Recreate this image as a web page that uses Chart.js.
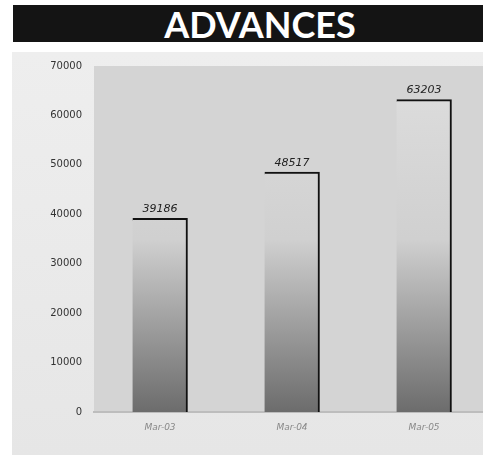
<!DOCTYPE html>
<html>
<head>
<meta charset="utf-8">
<script src="https://cdn.jsdelivr.net/npm/chart.js@4"></script>
<style>
    body { margin: 0; background: #fff; overflow: hidden; width: 483px; height: 465px; position: relative; }
    .title {
        position: absolute; left: 13px; top: 5px; width: 470px; height: 37px;
        background: #141414; color: #fff; text-align: center;
        font: bold 36px Lato, sans-serif; line-height: 38px; padding-left: 24px; box-sizing: border-box;
    }
    .panel {
        position: absolute; left: 12px; top: 52px; width: 490px; height: 403px;
        background: linear-gradient(#eeeeee, #e6e6e6);
    }
</style>
</head>
<body>
<div class="title">ADVANCES</div>
<div class="panel"><canvas id="chart" width="490" height="403"></canvas></div>
<script>
const labels = ['Mar-03', 'Mar-04', 'Mar-05']
const advances = [39186, 48517, 63203]
const yTicks = [0, 10000, 20000, 30000, 40000, 50000, 60000, 70000]

const valueLabels = {
    id: 'valueLabels',
    afterDatasetsDraw: (chart) => {
        const ctx = chart.ctx
        const meta = chart.getDatasetMeta(0)
        ctx.save()
        ctx.font = 'italic 11px "DejaVu Sans", sans-serif'
        ctx.fillStyle = '#222'
        ctx.textAlign = 'center'
        ctx.textBaseline = 'bottom'
        meta.data.forEach((bar, i) => {
            ctx.fillText(advances[i], bar.x, bar.y - 4)
        })
        ctx.restore()
    }
}

const plotBackground = {
    id: 'plotBackground',
    beforeDraw: (chart) => {
        const { ctx, chartArea } = chart
        ctx.save()
        ctx.fillStyle = '#d4d4d4'
        ctx.fillRect(chartArea.left, chartArea.top, chartArea.right - chartArea.left, chartArea.bottom - chartArea.top)
        ctx.restore()
    }
}

const barFill = (context) => {
    const area = context.chart.chartArea
    if (!area) return '#999'
    const g = context.chart.ctx.createLinearGradient(0, area.top, 0, area.bottom)
    g.addColorStop(0, '#dedede')
    g.addColorStop(0.5, '#d0d0d0')
    g.addColorStop(1, '#6c6c6c')
    return g
}

new Chart(document.getElementById('chart'), {
    type: 'bar',
    data: {
        labels: labels,
        datasets: [{
            data: advances,
            backgroundColor: barFill,
            borderColor: '#111',
            borderWidth: { top: 2, right: 2, left: 0, bottom: 0 },
            borderSkipped: false,
            barThickness: 55
        }]
    },
    options: {
        responsive: false,
        animation: false,
        layout: { padding: { top: 14, right: 12, left: 0, bottom: 0 } },
        plugins: {
            legend: { display: false },
            tooltip: { enabled: false }
        },
        scales: {
            x: {
                grid: { display: false, drawTicks: false },
                border: { color: '#bdbdbd', width: 2 },
                ticks: {
                    padding: 10,
                    color: '#888',
                    font: { family: '"DejaVu Sans", sans-serif', size: 9, style: 'italic' }
                },
                afterFit: (scale) => { scale.height = 43 }
            },
            y: {
                min: 0,
                max: 70000,
                afterBuildTicks: (scale) => { scale.ticks = yTicks.map(v => ({ value: v })) },
                grid: { display: false, drawTicks: true, tickLength: 8, tickColor: '#c4c4c4' },
                border: { display: false },
                ticks: {
                    padding: 4,
                    color: '#333',
                    callback: (value) => String(value),
                    font: { family: '"DejaVu Sans", sans-serif', size: 10 }
                },
                afterFit: (scale) => { scale.width = 82 }
            }
        }
    },
    plugins: [plotBackground, valueLabels]
})
</script>
</body>
</html>
